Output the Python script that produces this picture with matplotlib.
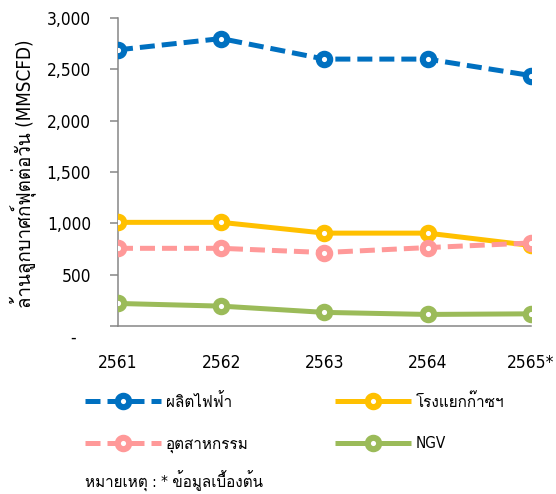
import matplotlib
matplotlib.use("Agg")
import matplotlib.pyplot as plt
from matplotlib.transforms import ScaledTranslation

###
# Data
###

years = ["2561", "2562", "2563", "2564", "2565*"]
power = [2690, 2800, 2600, 2600, 2440]      # ผลิตไฟฟ้า
gsp = [1010, 1010, 905, 905, 785]           # โรงแยกก๊าซฯ
industry = [757, 757, 716, 764, 809]        # อุตสาหกรรม
ngv = [220, 194, 133, 113, 119]             # NGV

yticks = [0, 500, 1000, 1500, 2000, 2500, 3000]
ytick_labels = ["-   ", "500", "1,000", "1,500", "2,000", "2,500", "3,000"]

###
# Style
###

plt.rcParams['font.family'] = ['DejaVu Sans', 'Loma']
plt.rcParams['font.stretch'] = 'condensed'
axis_gray = "#868686"

fig = plt.figure(figsize=(5.56, 4.94), dpi=100)
ax = fig.add_axes([0.2122, 0.340, 0.7423, 0.6235])

x = list(range(len(years)))
common = dict(linewidth=3.6, marker="o", markersize=8.2, markeredgewidth=4.4,
              markerfacecolor="white", solid_capstyle="butt", dash_capstyle="butt")
dashed = (0, (3.0, 1.4))

ax.plot(x, ngv, color="#9BBB59", label="NGV", zorder=3, **common)
ax.plot(x, industry, color="#FF9999", linestyle=dashed, label="อุตสาหกรรม", zorder=4, **common)
ax.plot(x, gsp, color="#FFC000", label="โรงแยกก๊าซฯ", zorder=3, **common)
ax.plot(x, power, color="#0070C0", linestyle=dashed, label="ผลิตไฟฟ้า", zorder=4, **common)

ax.set_xlim(0, 4)
ax.set_ylim(0, 3000)
ax.set_xticks(x)
ax.set_xticklabels(years, fontsize=12.4)
ax.set_yticks(yticks)
ax.set_yticklabels(ytick_labels, fontsize=12.4)
ax.tick_params(axis="x", length=0, pad=20)
ax.tick_params(axis="y", length=5.5, width=1.1, color=axis_gray, pad=14)

for side in ["top", "right"]:
    ax.spines[side].set_visible(False)
for side in ["left", "bottom"]:
    ax.spines[side].set_color(axis_gray)
    ax.spines[side].set_linewidth(1.1)
ax.spines["left"].set_zorder(2)

# put the dash for zero a bit lower, as in the original
zero_lab = ax.get_yticklabels()[0]
zero_lab.set_transform(zero_lab.get_transform() + ScaledTranslation(0, -0.1, fig.dpi_scale_trans))

ax.set_ylabel("ล้านลูกบาศก์ฟุตต่อวัน (MMSCFD)", fontsize=13.5)
ax.yaxis.set_label_coords(-0.198, 0.495)

handles, labels = ax.get_legend_handles_labels()
order = [3, 1, 2, 0]
leg = fig.legend([handles[i] for i in order], [labels[i] for i in order],
                 ncol=2, loc="upper left", bbox_to_anchor=(0.153, 0.205),
                 frameon=False, fontsize=11, handlelength=5.0, handletextpad=0.3,
                 columnspacing=5.65, labelspacing=1.75, borderpad=0, borderaxespad=0)

fig.text(0.153, 0.026, "หมายเหตุ : * ข้อมูลเบื้องต้น", fontsize=11, va="center")

fig.savefig("out.png", dpi=100)
